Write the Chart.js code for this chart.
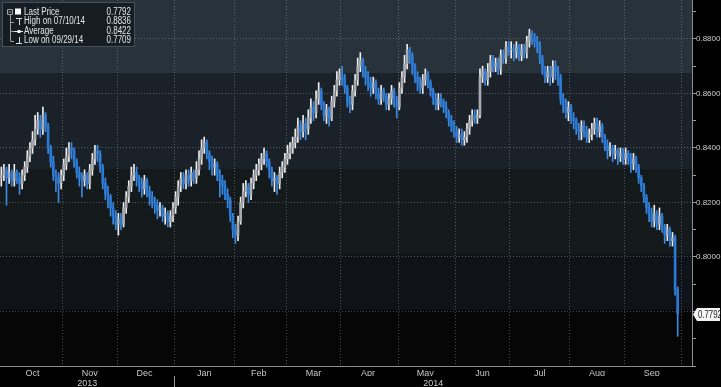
<!DOCTYPE html>
<html>
<head>
<meta charset="utf-8">
<script src="https://cdn.jsdelivr.net/npm/chart.js@4.4.0/dist/chart.umd.min.js"></script>
<style>
  html, body { margin: 0; padding: 0; background: #000; }
  #c { display: block; }
</style>
</head>
<body>
<canvas id="c" width="721" height="387"></canvas>
<script>
// Daily OHLC, 30 Sep 2013 .. 29 Sep 2014 (one row per month in the source below)
const opens = [
  0.829,
  0.830,0.832,0.829,0.831,0.828,0.831,0.829,0.827,0.830,0.833,0.837,0.840,0.843,0.847,0.850,0.847,0.852,0.848,0.840,0.835,0.830,0.829,0.827,
  0.830,0.834,0.837,0.840,0.839,0.835,0.831,0.829,0.828,0.830,0.827,0.832,0.836,0.839,0.838,0.833,0.827,0.823,0.822,0.818,0.815,
  0.812,0.814,0.812,0.818,0.822,0.826,0.830,0.831,0.829,0.827,0.825,0.828,0.824,0.822,0.820,0.819,0.817,0.818,0.815,0.816,0.813,0.815,
  0.818,0.822,0.826,0.829,0.827,0.830,0.828,0.831,0.829,0.832,0.836,0.840,0.842,0.838,0.835,0.833,0.834,0.830,0.828,0.826,0.823,0.821,0.815,
  0.810,0.808,0.813,0.820,0.824,0.826,0.823,0.827,0.830,0.832,0.834,0.836,0.838,0.835,0.832,0.828,0.829,0.827,0.831,0.833,
  0.836,0.838,0.840,0.842,0.844,0.848,0.846,0.849,0.847,0.851,0.855,0.853,0.858,0.861,0.856,0.852,0.854,0.851,0.857,0.861,0.865,
  0.867,0.866,0.862,0.857,0.856,0.861,0.865,0.870,0.872,0.868,0.866,0.864,0.862,0.864,0.860,0.858,0.861,0.859,0.856,0.858,0.861,0.857,
  0.855,0.862,0.866,0.871,0.876,0.874,0.870,0.866,0.864,0.862,0.865,0.867,0.864,0.861,0.858,0.856,0.858,0.857,0.855,0.853,0.850,0.848,
  0.846,0.844,0.845,0.843,0.844,0.847,0.850,0.852,0.851,0.852,0.866,0.868,0.865,0.868,0.872,0.870,0.871,0.869,0.874,0.873,0.877,
  0.876,0.876,0.875,0.877,0.874,0.876,0.875,0.879,0.882,0.880,0.879,0.878,0.873,0.869,0.866,0.868,0.866,0.870,0.868,0.866,0.858,0.856,0.853,
  0.855,0.851,0.850,0.847,0.846,0.848,0.846,0.844,0.845,0.847,0.849,0.846,0.848,0.844,0.841,0.839,0.840,0.838,0.839,0.837,0.838,
  0.836,0.838,0.836,0.834,0.836,0.833,0.829,0.826,0.822,0.818,0.816,0.813,0.816,0.812,0.815,0.811,0.808,0.810,0.806,0.807,0.788
];
const highs = [
  0.833,
  0.834,0.833,0.834,0.832,0.834,0.832,0.831,0.832,0.835,0.839,0.842,0.846,0.852,0.853,0.852,0.855,0.853,0.849,0.841,0.837,0.832,0.831,0.832,
  0.836,0.840,0.842,0.842,0.840,0.836,0.833,0.831,0.832,0.831,0.834,0.838,0.841,0.841,0.839,0.834,0.829,0.826,0.823,0.820,0.817,
  0.816,0.816,0.820,0.824,0.828,0.833,0.834,0.833,0.830,0.829,0.830,0.829,0.826,0.824,0.822,0.821,0.820,0.819,0.818,0.817,0.817,0.820,
  0.824,0.828,0.831,0.831,0.832,0.832,0.833,0.832,0.835,0.839,0.843,0.844,0.843,0.839,0.837,0.836,0.835,0.832,0.830,0.828,0.825,0.822,0.816,
  0.812,0.815,0.822,0.827,0.828,0.827,0.829,0.832,0.834,0.836,0.838,0.840,0.839,0.836,0.833,0.831,0.830,0.833,0.835,0.838,
  0.841,0.842,0.844,0.847,0.851,0.850,0.852,0.851,0.854,0.858,0.857,0.861,0.864,0.862,0.857,0.856,0.855,0.859,0.863,0.868,0.869,
  0.870,0.867,0.863,0.859,0.863,0.867,0.873,0.875,0.873,0.870,0.868,0.866,0.866,0.865,0.862,0.863,0.862,0.860,0.860,0.863,0.862,0.859,
  0.864,0.868,0.874,0.878,0.877,0.875,0.871,0.868,0.866,0.867,0.869,0.868,0.865,0.862,0.860,0.860,0.860,0.858,0.857,0.854,0.852,0.850,
  0.848,0.847,0.847,0.846,0.849,0.852,0.854,0.854,0.854,0.869,0.870,0.869,0.871,0.874,0.874,0.873,0.873,0.876,0.876,0.879,0.879,
  0.879,0.878,0.879,0.878,0.878,0.878,0.881,0.8836,0.883,0.882,0.881,0.879,0.874,0.870,0.870,0.870,0.872,0.872,0.870,0.867,0.860,0.858,0.857,
  0.856,0.853,0.851,0.849,0.850,0.850,0.848,0.847,0.849,0.851,0.851,0.850,0.849,0.845,0.843,0.842,0.841,0.841,0.840,0.840,0.840,
  0.840,0.839,0.838,0.838,0.837,0.834,0.830,0.827,0.823,0.820,0.818,0.819,0.817,0.818,0.816,0.812,0.812,0.811,0.809,0.808,0.789
];
const lows = [
  0.826,
  0.828,0.819,0.827,0.826,0.826,0.827,0.823,0.825,0.828,0.831,0.835,0.838,0.841,0.845,0.844,0.845,0.846,0.838,0.833,0.828,0.824,0.820,0.825,
  0.828,0.832,0.835,0.836,0.833,0.829,0.826,0.822,0.826,0.825,0.825,0.830,0.834,0.835,0.831,0.825,0.821,0.818,0.815,0.812,0.810,
  0.808,0.810,0.811,0.816,0.820,0.824,0.828,0.826,0.824,0.822,0.823,0.822,0.819,0.818,0.816,0.814,0.815,0.813,0.812,0.811,0.811,0.813,
  0.816,0.819,0.824,0.825,0.825,0.826,0.826,0.827,0.827,0.830,0.834,0.838,0.836,0.832,0.830,0.830,0.828,0.822,0.823,0.821,0.818,0.813,0.807,
  0.805,0.806,0.812,0.818,0.822,0.820,0.821,0.825,0.828,0.830,0.832,0.834,0.833,0.829,0.826,0.824,0.823,0.825,0.829,0.831,
  0.834,0.836,0.838,0.840,0.842,0.843,0.844,0.843,0.845,0.849,0.850,0.851,0.856,0.854,0.850,0.849,0.848,0.850,0.855,0.859,0.863,
  0.863,0.860,0.855,0.853,0.854,0.859,0.863,0.868,0.866,0.863,0.861,0.859,0.860,0.858,0.856,0.856,0.857,0.854,0.854,0.856,0.855,0.851,
  0.854,0.860,0.864,0.869,0.871,0.867,0.864,0.861,0.860,0.860,0.863,0.862,0.859,0.856,0.854,0.854,0.855,0.853,0.851,0.848,0.846,0.844,
  0.842,0.842,0.841,0.841,0.842,0.845,0.848,0.849,0.849,0.851,0.864,0.863,0.863,0.866,0.868,0.868,0.867,0.867,0.871,0.871,0.874,
  0.873,0.872,0.873,0.872,0.872,0.873,0.873,0.877,0.878,0.877,0.875,0.871,0.867,0.864,0.864,0.863,0.864,0.865,0.863,0.856,0.853,0.851,0.850,
  0.849,0.847,0.845,0.843,0.843,0.844,0.842,0.842,0.843,0.845,0.844,0.844,0.842,0.839,0.836,0.837,0.835,0.836,0.834,0.835,0.834,
  0.834,0.834,0.831,0.832,0.831,0.827,0.824,0.820,0.816,0.813,0.811,0.811,0.810,0.810,0.809,0.805,0.806,0.804,0.804,0.786,0.7709
];
const closes = [
  0.830,
  0.832,0.829,0.831,0.828,0.831,0.829,0.827,0.830,0.833,0.837,0.840,0.843,0.847,0.850,0.847,0.852,0.848,0.840,0.835,0.830,0.829,0.827,0.830,
  0.834,0.837,0.840,0.839,0.835,0.831,0.829,0.828,0.830,0.827,0.832,0.836,0.839,0.838,0.833,0.827,0.823,0.822,0.818,0.815,0.812,
  0.814,0.812,0.818,0.822,0.826,0.830,0.831,0.829,0.827,0.825,0.828,0.824,0.822,0.820,0.819,0.817,0.818,0.815,0.816,0.813,0.815,0.818,
  0.822,0.826,0.829,0.827,0.830,0.828,0.831,0.829,0.832,0.836,0.840,0.842,0.838,0.835,0.833,0.834,0.830,0.828,0.826,0.823,0.821,0.815,0.810,
  0.808,0.813,0.820,0.824,0.826,0.823,0.827,0.830,0.832,0.834,0.836,0.838,0.835,0.832,0.828,0.829,0.827,0.831,0.833,0.836,
  0.838,0.840,0.842,0.844,0.848,0.846,0.849,0.847,0.851,0.855,0.853,0.858,0.861,0.856,0.852,0.854,0.851,0.857,0.861,0.865,0.867,
  0.866,0.862,0.857,0.856,0.861,0.865,0.870,0.872,0.868,0.866,0.864,0.862,0.864,0.860,0.858,0.861,0.859,0.856,0.858,0.861,0.857,0.855,
  0.862,0.866,0.871,0.876,0.874,0.870,0.866,0.864,0.862,0.865,0.867,0.864,0.861,0.858,0.856,0.858,0.857,0.855,0.853,0.850,0.848,0.846,
  0.844,0.845,0.843,0.844,0.847,0.850,0.852,0.851,0.852,0.866,0.868,0.865,0.868,0.872,0.870,0.871,0.869,0.874,0.873,0.877,0.876,
  0.876,0.875,0.877,0.874,0.876,0.875,0.879,0.882,0.880,0.879,0.878,0.873,0.869,0.866,0.868,0.866,0.870,0.868,0.866,0.858,0.856,0.853,0.855,
  0.851,0.850,0.847,0.846,0.848,0.846,0.844,0.845,0.847,0.849,0.846,0.848,0.844,0.841,0.839,0.840,0.838,0.839,0.837,0.838,0.836,
  0.838,0.836,0.834,0.836,0.833,0.829,0.826,0.822,0.818,0.816,0.813,0.816,0.812,0.815,0.811,0.808,0.810,0.806,0.807,0.788,0.7792
];

const monthLabels = ['Oct', 'Nov', 'Dec', 'Jan', 'Feb', 'Mar', 'Apr', 'May', 'Jun', 'Jul', 'Aug', 'Sep'];
const yearLabels = ['2013', '2014'];

const lastPrice = 0.7792;
const highPrice = 0.8836, highDate = '07/10/14';
const avgPrice = 0.8422;
const lowPrice = 0.7709, lowDate = '09/29/14';

// background bands (price levels) and their shades
const bandEdges = [0.8943, 0.8675, 0.8322, 0.8010, 0.7804, 0.76];
const bandColors = ['#28323b', '#1b2129', '#141a1b', '#0f1219', '#060606'];

const FONT = '"Liberation Sans", Arial, sans-serif';
const UP_BODY = '#a7abb0', UP_WICK = '#eeeeee';
const DN_BODY = '#2b7ad6', DN_WICK = '#3b8ae6';

// trading-day axis: weekdays from 30 Sep 2013 to 6 Oct 2014
const dates = [];
for (let d = new Date(Date.UTC(2013, 8, 30)); d <= new Date(Date.UTC(2014, 9, 6)); d.setUTCDate(d.getUTCDate() + 1)) {
    const wd = d.getUTCDay();
    if (wd !== 0 && wd !== 6) dates.push(d.toISOString().slice(0, 10));
}

// month starts (grid lines), mid-month / mid-year positions (labels)
const monthStart = new Set();
const monthMid = {};
const yearMid = {};
let yearStart = -1;
{
    let start = 0, m = 0;
    for (let i = 1; i <= dates.length; i++) {
        const cur = i < dates.length ? dates[i].slice(0, 7) : null;
        if (cur !== dates[i - 1].slice(0, 7)) {
            if (start > 0 && m < monthLabels.length) { monthMid[Math.floor((start + i - 1) / 2)] = monthLabels[m]; m++; }
            if (i < dates.length && i > 1) monthStart.add(i);
            start = i;
        }
    }
    let ys = 0, y = 0;
    for (let i = 1; i <= dates.length; i++) {
        const cur = i < dates.length ? dates[i].slice(0, 4) : null;
        if (cur !== dates[i - 1].slice(0, 4)) {
            yearMid[Math.floor((ys + i - 1) / 2)] = yearLabels[y++];
            if (i < dates.length) yearStart = i;
            ys = i;
        }
    }
}

const isUp = i => closes[i] >= opens[i];

const backdrop = {
    id: 'backdrop',
    beforeDraw(chart) {
        const { ctx, chartArea: a, scales: { y } } = chart;
        ctx.save();
        ctx.fillStyle = '#000';
        ctx.fillRect(0, 0, chart.width, chart.height);
        for (let i = 0; i < bandColors.length; i++) {
            const t = Math.round(Math.max(a.top, y.getPixelForValue(bandEdges[i])));
            const b = Math.round(Math.min(a.bottom, y.getPixelForValue(bandEdges[i + 1])));
            ctx.fillStyle = bandColors[i];
            ctx.fillRect(a.left, t, a.right - a.left, b - t);
        }
        ctx.restore();
    }
};

// narrow text: the reference uses a condensed face
function narrowText(ctx, text, x, y, align, sx) {
    ctx.save();
    ctx.translate(x, y);
    ctx.scale(sx, 1);
    ctx.textAlign = align;
    ctx.fillText(text, 0, 0);
    ctx.restore();
}

const infoBox = {
    id: 'infoBox',
    afterDraw(chart) {
        const { ctx, chartArea: a, scales: { y } } = chart;
        ctx.save();
        // legend panel
        ctx.fillStyle = 'rgba(20,27,34,0.92)';
        ctx.fillRect(2.5, 2.5, 132, 44);
        ctx.strokeStyle = '#46505a';
        ctx.lineWidth = 1;
        ctx.strokeRect(2.5, 2.5, 132, 44);

        const rowsY = [12, 21.5, 31, 40.5];
        ctx.strokeStyle = '#9aa2aa';
        ctx.beginPath();
        ctx.rect(7.5, 9.5, 5, 5);
        ctx.moveTo(8.5, 12); ctx.lineTo(11.5, 12);
        ctx.moveTo(10.5, 15); ctx.lineTo(10.5, 41);
        [1, 2, 3].forEach(r => { ctx.moveTo(10.5, Math.round(rowsY[r]) + 0.5); ctx.lineTo(14, Math.round(rowsY[r]) + 0.5); });
        ctx.stroke();

        ctx.fillStyle = '#ffffff';
        ctx.fillRect(15, 8.5, 6, 6);
        ctx.strokeStyle = '#e0e0e0';
        ctx.beginPath();
        ctx.moveTo(16, 18.5); ctx.lineTo(22, 18.5);
        ctx.moveTo(19.5, 18.5); ctx.lineTo(19.5, 25);
        ctx.moveTo(14, 31.5); ctx.lineTo(23, 31.5);
        ctx.moveTo(19.5, 37); ctx.lineTo(19.5, 43.5);
        ctx.moveTo(16, 43.5); ctx.lineTo(22, 43.5);
        ctx.stroke();
        ctx.fillRect(17.5, 30, 3, 3);

        const rows = [
            ['Last Price', lastPrice],
            ['High on ' + highDate, highPrice],
            ['Average', avgPrice],
            ['Low on ' + lowDate, lowPrice]
        ];
        ctx.font = '10px ' + FONT;
        ctx.fillStyle = '#e4e6e8';
        ctx.textBaseline = 'middle';
        rows.forEach((r, i) => {
            narrowText(ctx, r[0], 24, rowsY[i], 'left', 0.8);
            narrowText(ctx, r[1].toFixed(4), 131, rowsY[i], 'right', 0.8);
        });

        // last price tag on the right axis
        const py = Math.round(y.getPixelForValue(lastPrice)) + 0.5;
        const x0 = a.right + 1;
        ctx.fillStyle = '#f4f4f4';
        ctx.beginPath();
        ctx.moveTo(x0, py);
        ctx.lineTo(x0 + 4, py - 6.5);
        ctx.lineTo(chart.width - 1, py - 6.5);
        ctx.lineTo(chart.width - 1, py + 6.5);
        ctx.lineTo(x0 + 4, py + 6.5);
        ctx.closePath();
        ctx.fill();
        ctx.fillStyle = '#1c1c1c';
        narrowText(ctx, lastPrice.toFixed(4), x0 + 5, py + 0.5, 'left', 0.78);
        ctx.restore();
    }
};

const gridDash = 'rgba(140,150,160,0.5)';
const noPad = s => { s.paddingTop = 0; s.paddingBottom = 0; s.paddingLeft = 0; s.paddingRight = 0; };

new Chart(document.getElementById('c'), {
    type: 'bar',
    data: {
        labels: dates,
        datasets: [
            {
                label: 'Body',
                data: opens.map((o, i) => [o, closes[i]]),
                backgroundColor: ctx => isUp(ctx.dataIndex) ? UP_BODY : DN_BODY,
                barThickness: 2,
                minBarLength: 1,
                grouped: false,
                order: 1
            },
            {
                label: 'Range',
                data: lows.map((l, i) => [l, highs[i]]),
                backgroundColor: ctx => isUp(ctx.dataIndex) ? UP_WICK : DN_WICK,
                barThickness: 1,
                grouped: false,
                order: 2
            }
        ]
    },
    options: {
        responsive: false,
        animation: false,
        devicePixelRatio: 1,
        layout: { padding: 0 },
        plugins: { legend: { display: false }, tooltip: { enabled: false } },
        scales: {
            x: {
                type: 'category',
                offset: true,
                weight: 0,
                grid: {
                    offset: true,
                    drawTicks: false,
                    color: ctx => monthStart.has(ctx.index) ? gridDash : 'transparent'
                },
                border: { display: true, color: '#8c8c8c', dash: [1, 2] },
                ticks: { display: false, autoSkip: false, maxRotation: 0 },
                afterFit: s => { noPad(s); s.height = 0; }
            },
            xm: {
                type: 'category',
                position: 'bottom',
                offset: true,
                weight: 1,
                grid: { display: false, drawTicks: false },
                border: { display: false },
                ticks: {
                    autoSkip: false, maxRotation: 0, padding: 2,
                    color: '#c8c8c8', font: { family: FONT, size: 9 },
                    callback: (v, i) => monthMid[i] || ''
                },
                afterFit: s => { noPad(s); s.height = 10; }
            },
            xy: {
                type: 'category',
                position: 'bottom',
                offset: true,
                weight: 2,
                grid: {
                    offset: true, drawOnChartArea: false, drawTicks: true, tickLength: 11,
                    color: ctx => ctx.index === yearStart ? '#9a9a9a' : 'transparent',
                    tickColor: ctx => ctx.index === yearStart ? '#9a9a9a' : 'transparent'
                },
                border: { display: false },
                ticks: {
                    autoSkip: false, maxRotation: 0, padding: -9,
                    color: '#c8c8c8', font: { family: FONT, size: 9 },
                    callback: (v, i) => yearMid[i] || ''
                },
                afterFit: s => { noPad(s); s.height = 11; }
            },
            y: {
                position: 'right',
                min: 0.76,
                max: 0.8943,
                grid: {
                    drawTicks: true,
                    tickLength: 4,
                    color: ctx => {
                        const v = ctx.tick ? Math.round(ctx.tick.value * 100) : 1;
                        return v % 2 === 0 && v > 76 ? gridDash : 'transparent';
                    },
                    tickColor: '#9a9a9a'
                },
                border: { display: true, color: '#8c8c8c', dash: [1, 2] },
                ticks: {
                    stepSize: 0.01,
                    includeBounds: false,
                    padding: 0,
                    color: '#cfcfcf',
                    font: { family: FONT, size: 8 },
                    callback: v => {
                        const k = Math.round(v * 100);
                        return (k % 2 === 0 && k >= 80) ? v.toFixed(4) : '';
                    }
                },
                afterFit: s => { noPad(s); s.width = 29; }
            }
        }
    },
    plugins: [backdrop, infoBox]
});
</script>
</body>
</html>
